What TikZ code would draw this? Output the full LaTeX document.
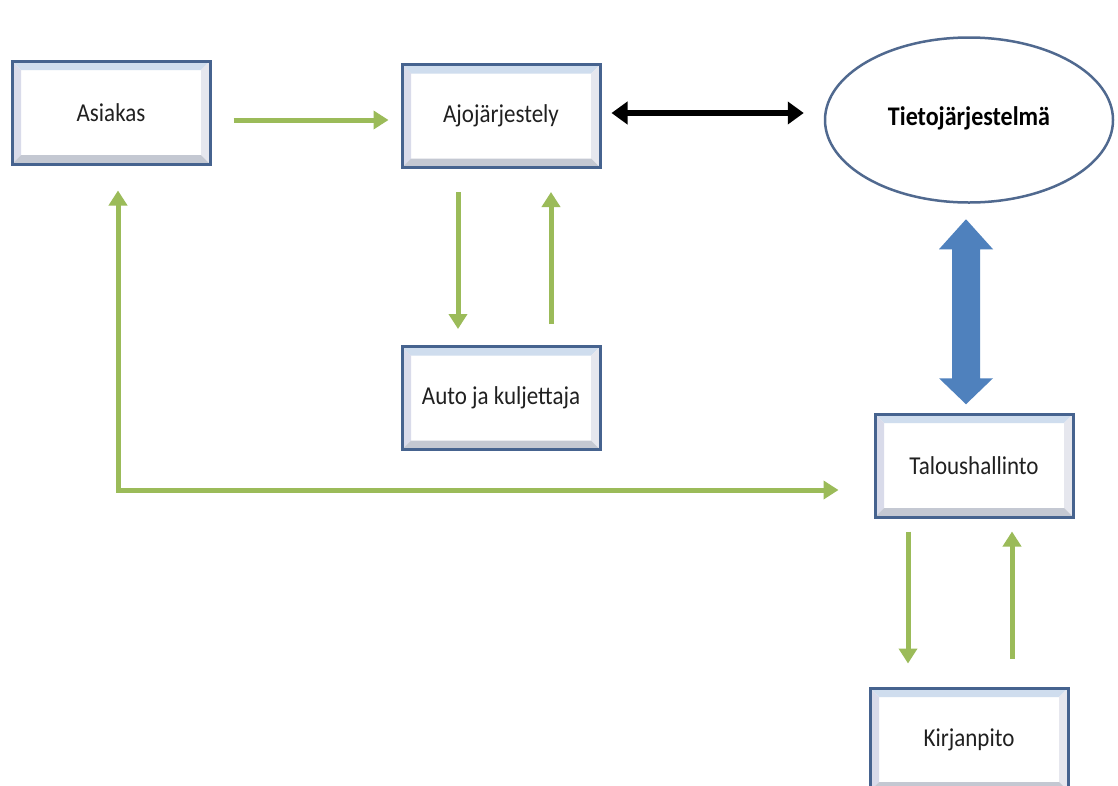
\documentclass[tikz,border=0pt]{standalone}
\usepackage{fontspec}
\usepackage{graphicx}
\setmainfont{Carlito}
\usetikzlibrary{arrows.meta,shapes.geometric}
\definecolor{boxblue}{HTML}{46638F}
\definecolor{bevtopc}{HTML}{CFDDEE}
\definecolor{bevleftc}{HTML}{D9DBEA}
\definecolor{bevrightc}{HTML}{E6E7EE}
\definecolor{bevbotc}{HTML}{C4C8D2}
\definecolor{arrgreen}{HTML}{9BBB59}
\definecolor{arrblue}{HTML}{4F81BD}
\definecolor{ellblue}{HTML}{50698F}
\definecolor{textgray}{HTML}{202020}
\newcommand{\lbl}[1]{\scalebox{1}[1.12]{#1}}
\tikzset{
  boxnode/.style={draw=boxblue, line width=3pt, fill=white,
    minimum width=198pt, minimum height=103pt, inner sep=0pt,
    font=\fontsize{23}{27}\selectfont, text=textgray,
    path picture={
      \def\bvw{9pt}
      \path (path picture bounding box.north west) coordinate (pnw)
            (path picture bounding box.north east) coordinate (pne)
            (path picture bounding box.south east) coordinate (pse)
            (path picture bounding box.south west) coordinate (psw);
      \fill[bevtopc] (pnw) -- (pne) -- ([shift={(-\bvw,-\bvw)}]pne) -- ([shift={(\bvw,-\bvw)}]pnw) -- cycle;
      \fill[bevleftc] (pnw) -- (psw) -- ([shift={(\bvw,\bvw)}]psw) -- ([shift={(\bvw,-\bvw)}]pnw) -- cycle;
      \fill[bevrightc] (pne) -- (pse) -- ([shift={(-\bvw,\bvw)}]pse) -- ([shift={(-\bvw,-\bvw)}]pne) -- cycle;
      \fill[bevbotc] (psw) -- (pse) -- ([shift={(-\bvw,\bvw)}]pse) -- ([shift={(\bvw,\bvw)}]psw) -- cycle;
    }},
  ellnode/.style={ellipse, draw=ellblue, line width=2.5pt, fill=white,
    minimum width=288pt, minimum height=165pt, inner sep=0pt,
    font=\fontsize{24}{28}\selectfont\bfseries, text=black},
  garrow/.style={draw=arrgreen, line width=5pt,
    -{Triangle[width=18pt,length=15pt]}},
  garrowboth/.style={draw=arrgreen, line width=5pt,
    {Triangle[width=18pt,length=15pt]}-{Triangle[width=18pt,length=15pt]}},
  blackarrow/.style={draw=black, line width=6pt,
    {Triangle[width=22pt,length=16pt]}-{Triangle[width=22pt,length=16pt]}},
  bluearrow/.style={fill=arrblue}
}
\begin{document}
\begin{tikzpicture}[x=1pt,y=-1pt]
\useasboundingbox (0,0) rectangle (1118,785);
\fill[white] (0,0) rectangle (1118,785);

% nodes
\node[boxnode] (asiakas) at (111,112.5) {\lbl{Asiakas}};
\node[boxnode] (ajo) at (501,116) {\lbl{Ajojärjestely}};
\node[boxnode] (auto) at (501,398) {\lbl{Auto ja kuljettaja}};
\node[boxnode] (talous) at (974,465.5) {\lbl{Taloushallinto}};
\node[boxnode] (kirj) at (969,739.5) {\lbl{Kirjanpito}};
\node[ellnode] (tieto) at (969,120) {\raisebox{8pt}{\lbl{Tietojärjestelmä}}};

% Asiakas -> Ajojarjestely
\path ([xshift=22pt,yshift=-7.5pt]asiakas.east) coordinate (a1)
      ([xshift=-12pt]ajo.west) coordinate (a2);
\draw[garrow] (a1) -- (a2 |- a1);

% Ajojarjestely <-> Tietojarjestelma
\path ([xshift=10pt,yshift=3pt]ajo.east) coordinate (b1)
      ([xshift=-20pt]tieto.west) coordinate (b2);
\draw[blackarrow] (b1) -- (b2 |- b1);

% Ajojarjestely -> Auto ja kuljettaja
\draw[garrow] ([xshift=-43pt,yshift=-23pt]ajo.south) -- ([xshift=-43pt,yshift=16pt]auto.north);
% Auto ja kuljettaja -> Ajojarjestely
\draw[garrow] ([xshift=50pt,yshift=21pt]auto.north) -- ([xshift=50pt,yshift=-23pt]ajo.south);

% Asiakas <-> Taloushallinto
\path ([xshift=7pt,yshift=-25pt]asiakas.south) coordinate (c1)
      ([xshift=-35pt,yshift=-24.5pt]talous.west) coordinate (c2);
\draw[garrowboth] (c1) |- (c2);

% Taloushallinto -> Kirjanpito
\draw[garrow] ([xshift=-66pt,yshift=-13pt]talous.south) -- ([xshift=-61pt,yshift=23pt]kirj.north);
% Kirjanpito -> Taloushallinto
\draw[garrow] ([xshift=43pt,yshift=28pt]kirj.north) -- ([xshift=38pt,yshift=-13pt]talous.south);

% Tietojarjestelma <-> Taloushallinto (block arrow)
\path ([xshift=-3pt,yshift=-15.5pt]tieto.south) coordinate (t1);
\fill[bluearrow] (t1) -- ++(27pt,-30pt) -- ++(-13pt,0pt) -- ++(0pt,-129pt)
  -- ++(13pt,0pt) -- ++(-27pt,-26pt) -- ++(-27pt,26pt) -- ++(13pt,0pt)
  -- ++(0pt,129pt) -- ++(-13pt,0pt) -- cycle;
\end{tikzpicture}
\end{document}
